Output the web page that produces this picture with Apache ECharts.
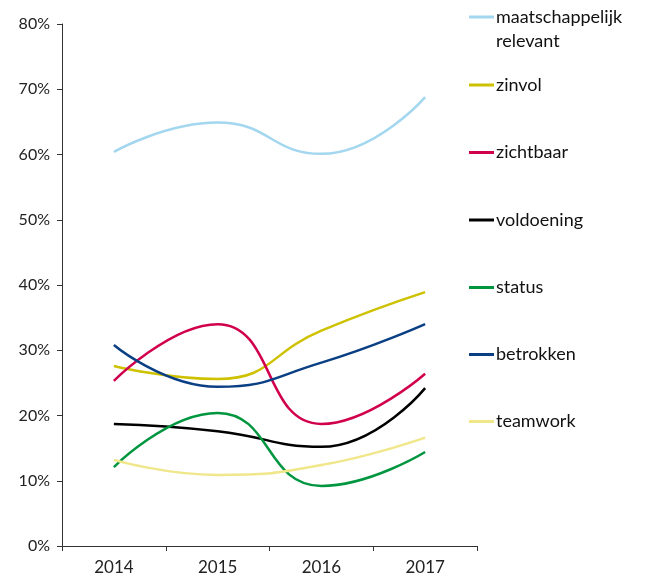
<!DOCTYPE html>
<html>
<head>
<meta charset="utf-8">
<script src="https://cdn.jsdelivr.net/npm/echarts@6/dist/echarts.min.js"></script>
<style>html,body{margin:0;padding:0;background:#fff}#c{width:645px;height:577px}</style>
</head>
<body>
<div id="c"></div>
<script>
var years = ['2014', '2015', '2016', '2017'];
var yTicks = [0, 10, 20, 30, 40, 50, 60, 70, 80];
var seriesNames = ['maatschappelijk relevant', 'zinvol', 'zichtbaar', 'voldoening', 'status', 'betrokken', 'teamwork'];
var maatschappelijkValues = [60.4, 64.9, 60.1, 68.8];
var zinvolValues = [27.6, 25.6, 33.0, 38.9];
var zichtbaarValues = [25.3, 34.0, 18.7, 26.4];
var voldoeningValues = [18.7, 17.6, 15.2, 24.2];
var statusValues = [12.1, 20.4, 9.2, 14.4];
var betrokkenValues = [30.8, 24.4, 28.1, 34.0];
var teamworkValues = [13.2, 10.9, 12.4, 16.6];
var seriesValues = [maatschappelijkValues, zinvolValues, zichtbaarValues, voldoeningValues, statusValues, betrokkenValues, teamworkValues];
var colors = ['#a3d7ef', '#cdc100', '#d1004c', '#000000', '#00963f', '#0b3f84', '#f0e68a'];

var FONT = 'Lato, "DejaVu Sans", sans-serif';
var chart = echarts.init(document.getElementById('c'));

var legendCenters = [17, 85, 152.5, 220, 287.5, 354.5, 421.5];
var legends = seriesNames.map(function (n, i) {
  var multi = i === 0;
  return {
    data: [n],
    orient: 'vertical',
    left: 469,
    top: legendCenters[i] - (multi ? 36 : 12),
    padding: 0,
    itemWidth: 25,
    itemHeight: 24,
    itemGap: 0,
    selectedMode: false,
    icon: 'path://M0,0 L25,0 L25,3 L0,3 Z',
    formatter: function (name) { return name === 'maatschappelijk relevant' ? '\nmaatschappelijk\nrelevant' : name; },
    textStyle: {
      fontFamily: FONT, fontSize: 18, color: '#111', lineHeight: 24, padding: [0, 0, 0, -3]
    }
  };
});

chart.setOption({
  animation: false,
  color: colors,
  legend: legends,
  grid: { left: 62, right: 168, top: 24, bottom: 31, containLabel: false },
  xAxis: {
    type: 'category',
    data: years,
    boundaryGap: true,
    axisLine: { lineStyle: { color: '#333', width: 1 } },
    axisTick: { show: true, length: 5, lineStyle: { color: '#333' } },
    axisLabel: { fontFamily: FONT, fontSize: 17, color: '#222', margin: 13 }
  },
  yAxis: {
    type: 'value',
    min: yTicks[0],
    max: yTicks[yTicks.length - 1],
    interval: 10,
    splitLine: { show: false },
    axisLine: { show: true, lineStyle: { color: '#333', width: 1 } },
    axisTick: { show: true, length: 5, lineStyle: { color: '#333' } },
    axisLabel: { fontFamily: FONT, fontSize: 16, color: '#222', margin: 12, formatter: '{value}%' }
  },
  series: seriesNames.map(function (n, i) {
    return {
      name: n,
      type: 'line',
      data: seriesValues[i],
      smooth: 0.5,
      symbol: 'none',
      lineStyle: { width: 2.5, color: colors[i] },
      itemStyle: { color: colors[i] }
    };
  })
});
</script>
</body>
</html>
